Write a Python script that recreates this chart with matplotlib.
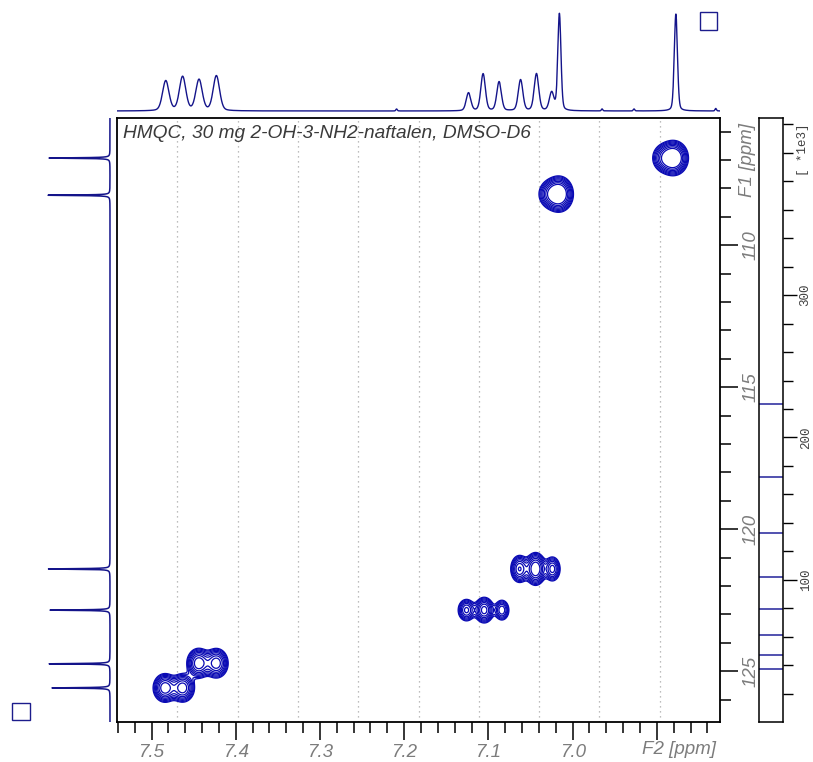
import numpy as np
import matplotlib
matplotlib.use('Agg')
import matplotlib.pyplot as plt
from matplotlib.patches import Rectangle
from matplotlib.ticker import MultipleLocator, FixedLocator

W, H = 813, 762


def box(x0, y0, x1, y1):
    # pixel box (top-left origin) -> figure fraction rect
    return [x0 / W, 1 - y1 / H, (x1 - x0) / W, (y1 - y0) / H]


title = 'HMQC, 30 mg 2-OH-3-NH2-naftalen, DMSO-D6'
f2_lim = (7.541, 6.825)
f1_lim = (126.79, 105.52)

# 1H projection (top): position ppm, height, half width
h1_ppm = [7.4831, 7.4631, 7.4436, 7.4230, 7.209,
          7.1236, 7.1063, 7.0873, 7.0618, 7.0429, 7.0249,
          7.0157, 6.965, 6.927, 6.8774, 6.830]
h1_height = [30, 34, 31, 35, 2,
             18, 37, 29, 31, 37, 18,
             97, 2, 2, 97, 2.5]
h1_width = [0.0045, 0.0045, 0.0045, 0.0045, 0.001,
            0.0032, 0.0032, 0.0032, 0.0032, 0.0032, 0.0032,
            0.0022, 0.001, 0.001, 0.0022, 0.001]

# 13C projection (left)
c13_ppm = [106.93, 108.24, 121.40, 122.85, 124.74, 125.59]
c13_height = [61, 62, 62, 60, 61, 58]

# cross peaks: F2, F1, amplitude (*1e3), widths
cross_f2 = [6.880, 6.892, 7.016, 7.027,
            7.063, 7.044, 7.024,
            7.126, 7.105, 7.084,
            7.444, 7.423, 7.484, 7.463]
cross_f1 = [106.93, 106.93, 108.20, 108.20,
            121.40, 121.40, 121.40,
            122.85, 122.85, 122.85,
            124.72, 124.72, 125.59, 125.59]
cross_amp = [420, 150, 400, 150,
             230, 320, 200,
             190, 260, 170,
             290, 280, 290, 280]
cross_w2 = [0.0080, 0.0075, 0.0078, 0.0075,
            0.0055, 0.0060, 0.0050,
            0.0055, 0.0058, 0.0048,
            0.0070, 0.0070, 0.0070, 0.0070]
cross_w1 = [0.28, 0.26, 0.29, 0.26,
            0.25, 0.28, 0.23,
            0.21, 0.23, 0.20,
            0.26, 0.26, 0.25, 0.25]

levels = [37.2, 47.1, 61.4, 79.2, 102.1, 133.0, 172.4, 223.3]

f2_major = [7.5, 7.4, 7.3, 7.2, 7.1, 7.0, 6.9]
f2_labels = ['7.5', '7.4', '7.3', '7.2', '7.1', '7.0', '']
f1_major = [110, 115, 120, 125]
scale_major = [100, 200, 300]

blue = '#0a0ab4'
navy = '#14148a'
gray = '#7c7c7c'

fig = plt.figure(figsize=(W / 100, H / 100), dpi=100)

# main 2D panel
ax = fig.add_axes(box(117, 118, 720, 722))
x2 = np.linspace(6.80, 7.56, 800)
y1 = np.linspace(105.0, 127.5, 700)
X, Y = np.meshgrid(x2, y1)
Z = np.zeros_like(X)
for a, b, c, d, e in zip(cross_f2, cross_f1, cross_amp, cross_w2, cross_w1):
    Z += c * np.exp(-0.5 * ((X - a) / d) ** 2 - 0.5 * ((Y - b) / e) ** 2)
ax.contour(X, Y, Z, levels=levels, colors=blue, linewidths=0.9)

ax.set_xlim(*f2_lim)
ax.set_ylim(*f1_lim)
for i in range(1, 10):
    xg = f2_lim[0] + i / 10 * (f2_lim[1] - f2_lim[0])
    ax.axvline(xg, color='#a8a8a8', ls=(0, (1, 3)), lw=0.9, zorder=0)

ax.xaxis.set_major_locator(FixedLocator(f2_major))
ax.set_xticklabels(f2_labels)
ax.xaxis.set_minor_locator(MultipleLocator(0.02))
ax.yaxis.tick_right()
ax.yaxis.set_major_locator(FixedLocator(f1_major))
ax.yaxis.set_minor_locator(MultipleLocator(1))
ax.tick_params(which='major', direction='out', length=13, width=1.1,
               colors='black', labelcolor=gray, labelsize=13.5)
ax.tick_params(which='minor', direction='out', length=8, width=1.1, colors='black')
ax.tick_params(axis='x', pad=3)
ax.tick_params(axis='y', pad=3, labelrotation=90)
for lab in ax.get_xticklabels() + ax.get_yticklabels():
    lab.set_fontfamily('Liberation Sans')
    lab.set_fontstyle('italic')
for lab in ax.get_yticklabels():
    lab.set_va('center')
for s in ax.spines.values():
    s.set_linewidth(1.3)

ax.text(0.010, 0.988, title, transform=ax.transAxes, ha='left', va='top',
        fontsize=13.8, color='#3a3a3a', family='Liberation Sans', style='italic')
fig.text(678.5 / W, 1 - 749 / H, 'F2 [ppm]', ha='center', va='center', fontsize=13.5,
         color=gray, family='Liberation Sans', style='italic')
fig.text(747 / W, 1 - 160 / H, 'F1 [ppm]', ha='center', va='center', rotation=90,
         fontsize=13.5, color=gray, family='Liberation Sans', style='italic')

# top 1H projection
axt = fig.add_axes(box(117, 8, 720, 113))
xs = np.linspace(6.82, 7.55, 4000)
ys = np.zeros_like(xs)
for p, h, w in zip(h1_ppm, h1_height, h1_width):
    lor = 1 / (1 + ((xs - p) / w) ** 2)
    gau = np.exp(-np.log(2) * ((xs - p) / w) ** 2)
    ys += h * (0.25 * lor + 0.75 * gau)
axt.plot(xs, ys, color=navy, lw=1)
axt.set_xlim(*f2_lim)
axt.set_ylim(-2, 103)
axt.axis('off')

# left 13C projection
axl = fig.add_axes(box(40, 118, 115, 722))
yc = np.linspace(105.0, 127.5, 8000)
xc = np.zeros_like(yc)
for p, h in zip(c13_ppm, c13_height):
    xc += h / (1 + ((yc - p) / 0.012) ** 2)
axl.plot(xc, yc, color=navy, lw=1.1)
axl.set_xlim(70, -5)
axl.set_ylim(*f1_lim)
axl.axis('off')

# contour level scale bar
axc = fig.add_axes(box(759, 118, 783, 722))
axc.set_ylim(0, 424.5)
axc.set_xlim(0, 1)
for lv in levels:
    axc.axhline(lv, color='#22229a', lw=1.1)
axc.set_xticks([])
axc.yaxis.tick_right()
axc.yaxis.set_major_locator(FixedLocator(scale_major))
axc.yaxis.set_minor_locator(FixedLocator(list(range(20, 421, 20))))
axc.tick_params(which='major', length=10, width=1, direction='out', pad=2,
                labelsize=9, labelcolor='#404040', labelrotation=90)
axc.tick_params(which='minor', length=7, width=1, direction='out')
for lab in axc.get_yticklabels():
    lab.set_fontfamily('Liberation Mono')
    lab.set_va('center')
for s in axc.spines.values():
    s.set_linewidth(1.1)
fig.text(803 / W, 1 - 150 / H, '[ *1e3]', ha='center', va='center', rotation=90,
         fontsize=9, color='#404040', family='Liberation Mono')

# small view boxes
fig.add_artist(Rectangle((700 / W, 1 - 30 / H), 17 / W, 18 / H, transform=fig.transFigure,
                         fill=False, ec='#1c1c8c', lw=1))
fig.add_artist(Rectangle((12 / W, 1 - 720 / H), 18 / W, 17 / H, transform=fig.transFigure,
                         fill=False, ec='#1c1c8c', lw=1))

fig.savefig('out.png', dpi=100)
